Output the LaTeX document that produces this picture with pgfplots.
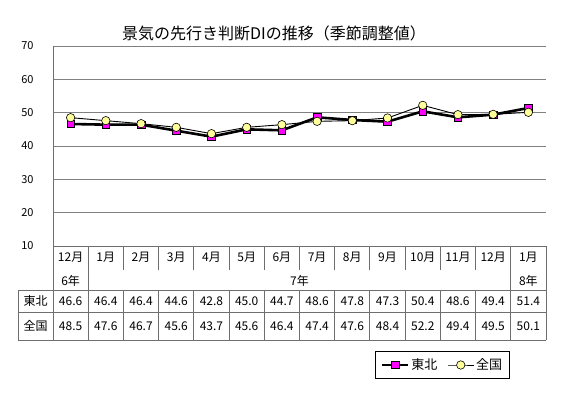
\documentclass[border=0pt]{standalone}
\usepackage{pgfplots}
\pgfplotsset{compat=1.18}
\usepackage{fontspec}
\setmainfont{Noto Sans CJK JP}
\definecolor{gridgray}{RGB}{128,128,128}
\definecolor{tabgray}{RGB}{110,110,110}
\definecolor{mag}{RGB}{255,0,255}
\definecolor{lyel}{RGB}{255,255,153}
\begin{document}
\begin{tikzpicture}[x=1pt,y=1pt]
\path (0,0) rectangle (563,393);
\begin{axis}[
  at={(53pt,147pt)}, anchor=south west,
  scale only axis, width=493pt, height=200pt,
  xmin=-0.5, xmax=13.5, ymin=10, ymax=70,
  xtick=\empty,
  ytick={10,20,...,70},
  ymajorgrids, major grid style={gridgray, line width=0.9pt},
  major tick length=0pt,
  axis line style={draw=none},
  /pgf/number format/assume math mode=true,
  yticklabel style={font=\fontsize{11}{12}\selectfont, anchor=east, xshift=-16pt},
  clip=false,
  legend columns=2,
  legend style={at={(0.79,-0.595)}, anchor=center, draw=black, line width=0.6pt,
    font=\fontsize{13}{14}\selectfont, inner xsep=5pt, inner ysep=5pt,
    /tikz/every even column/.append style={column sep=8pt}},
  legend image code/.code={\draw[mark repeat=2,mark phase=2,#1] plot coordinates {(0pt,0pt) (13pt,0pt) (26pt,0pt)};},
]
\addplot[black, line width=2.6pt, mark=square*, mark size=3.8pt,
  mark options={fill=mag, draw=black, line width=0.6pt}]
  coordinates {(0,46.6) (1,46.4) (2,46.4) (3,44.6) (4,42.8) (5,45.0) (6,44.7) (7,48.6) (8,47.8) (9,47.3) (10,50.4) (11,48.6) (12,49.4) (13,51.4)};
\addlegendentry{東北}
\addplot[black, line width=0.9pt, mark=*, mark size=4.2pt,
  mark options={fill=lyel, draw=black, line width=0.6pt}]
  coordinates {(0,48.5) (1,47.6) (2,46.7) (3,45.6) (4,43.7) (5,45.6) (6,46.4) (7,47.4) (8,47.6) (9,48.4) (10,52.2) (11,49.4) (12,49.5) (13,50.1)};
\addlegendentry{全国}
\end{axis}
% title
\node[font=\fontsize{16}{18}\selectfont] at (274,360) {景気の先行き判断DIの推移（季節調整値）};
% table lines
\begin{scope}[tabgray, line width=0.9pt]
\draw (53,347) -- (53,53);
\draw (53,147) -- (546,147);
\draw (18,103) -- (546,103);
\draw (18,81) -- (546,81);
\draw (18,53) -- (546,53);
\draw (18,103) -- (18,53);
\draw (546,147) -- (546,53);
\foreach \i in {1,...,13} {
  \draw ({53+\i*35.2143},147) -- ({53+\i*35.2143},123);
  \draw ({53+\i*35.2143},103) -- ({53+\i*35.2143},53);
}
\draw ({53+1*35.2143},123) -- ({53+1*35.2143},103);
\draw ({53+13*35.2143},123) -- ({53+13*35.2143},103);
\end{scope}
% table text
\begin{scope}[font=\fontsize{12}{13}\selectfont]
\foreach \t [count=\i from 0] in {12月,1月,2月,3月,4月,5月,6月,7月,8月,9月,10月,11月,12月,1月}
  \node at ({53+(\i+0.5)*35.2143},135.5) {\t};
\node at ({53+0.5*35.2143},112) {6年};
\node at ({53+7*35.2143},112) {7年};
\node at ({53+13.5*35.2143},112) {8年};
\node at (35.5,92) {東北};
\node at (35.5,67) {全国};
\foreach \t [count=\i from 0] in {46.6,46.4,46.4,44.6,42.8,45.0,44.7,48.6,47.8,47.3,50.4,48.6,49.4,51.4}
  \node at ({53+(\i+0.5)*35.2143},92) {\t};
\foreach \t [count=\i from 0] in {48.5,47.6,46.7,45.6,43.7,45.6,46.4,47.4,47.6,48.4,52.2,49.4,49.5,50.1}
  \node at ({53+(\i+0.5)*35.2143},67) {\t};
\end{scope}
\end{tikzpicture}
\end{document}
